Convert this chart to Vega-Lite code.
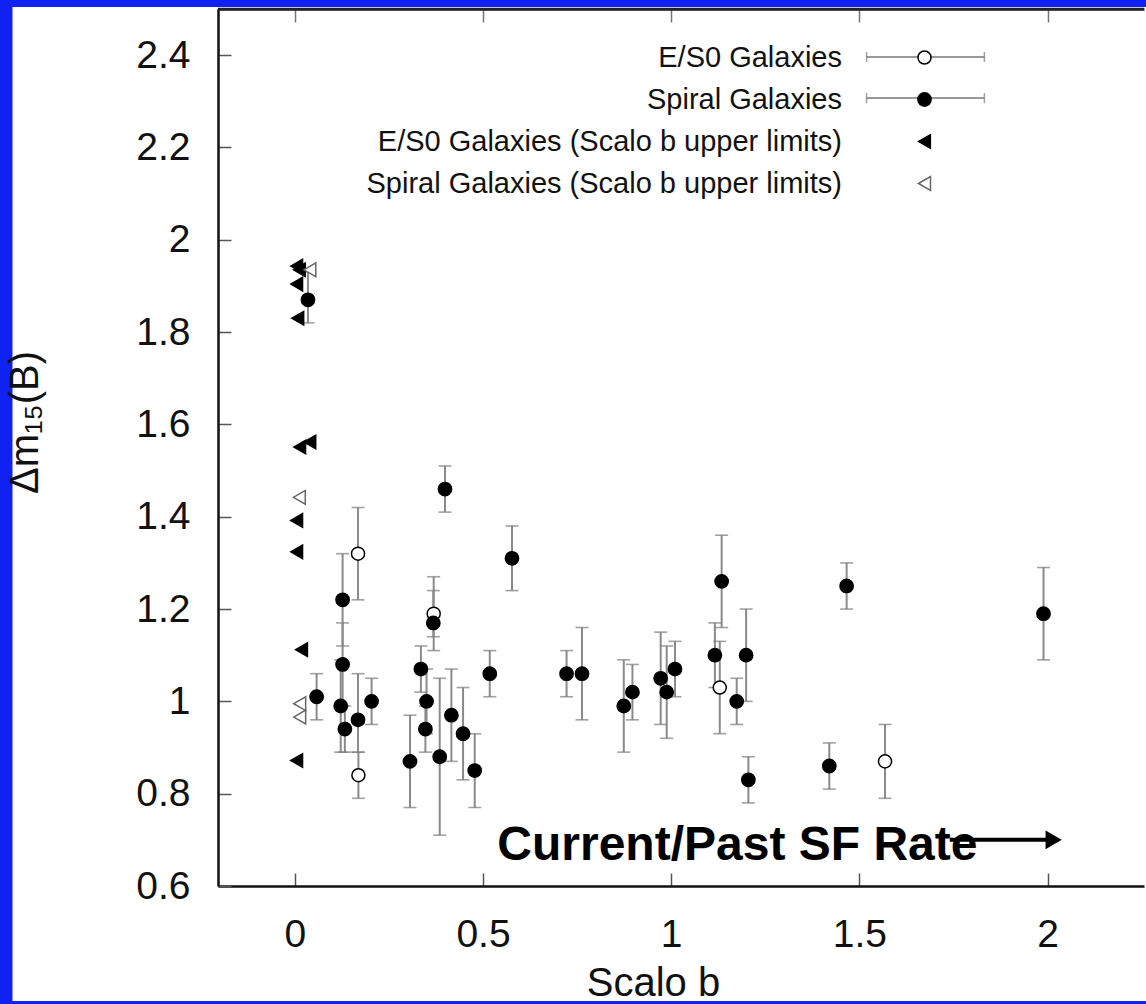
{
  "$schema": "https://vega.github.io/schema/vega-lite/v6.json",
  "width": 926,
  "height": 877,
  "autosize": {"type": "none"},
  "padding": {"left": 218, "top": 9, "right": 2, "bottom": 118},
  "background": "#1022f2",
  "resolve": {"axis": {"x": "independent"}},
  "config": {
    "view": {"stroke": null},
    "axis": {"grid": false, "labelFont": "Liberation Sans", "titleFont": "Liberation Sans", "labelColor": "#111", "titleColor": "#111", "titleFontWeight": "normal", "domainColor": "#111", "domainWidth": 2.5, "tickColor": "#555", "tickWidth": 1.5, "tickSize": -13, "labelFontSize": 39, "titleFontSize": 40, "labelFlush": false, "labelOverlap": false},
    "axisX": {"labelPadding": 42, "titlePadding": 9},
    "axisY": {"labelPadding": 41, "titlePadding": 90},
    "legend": {"labelFont": "Liberation Sans", "labelFontSize": 29, "labelColor": "#111", "labelLimit": 0, "padding": 0, "symbolStrokeWidth": 1.5}
  },
  "data": {"values": [
    {"b": 0.168, "dm": 1.32, "lo": 1.22, "hi": 1.42, "type": "E/S0 Galaxies"},
    {"b": 0.369, "dm": 1.19, "lo": 1.11, "hi": 1.27, "type": "E/S0 Galaxies"},
    {"b": 0.169, "dm": 0.84, "lo": 0.79, "hi": 0.89, "type": "E/S0 Galaxies"},
    {"b": 1.129, "dm": 1.03, "lo": 0.93, "hi": 1.13, "type": "E/S0 Galaxies"},
    {"b": 1.568, "dm": 0.87, "lo": 0.79, "hi": 0.95, "type": "E/S0 Galaxies"},
    {"b": 0.035, "dm": 1.87, "lo": 1.82, "hi": 1.93, "type": "Spiral Galaxies"},
    {"b": 0.399, "dm": 1.46, "lo": 1.41, "hi": 1.51, "type": "Spiral Galaxies"},
    {"b": 0.577, "dm": 1.31, "lo": 1.24, "hi": 1.38, "type": "Spiral Galaxies"},
    {"b": 0.127, "dm": 1.22, "lo": 1.12, "hi": 1.32, "type": "Spiral Galaxies"},
    {"b": 0.368, "dm": 1.17, "lo": 1.14, "hi": 1.24, "type": "Spiral Galaxies"},
    {"b": 0.127, "dm": 1.08, "lo": 0.99, "hi": 1.17, "type": "Spiral Galaxies"},
    {"b": 0.058, "dm": 1.01, "lo": 0.96, "hi": 1.06, "type": "Spiral Galaxies"},
    {"b": 0.122, "dm": 0.99, "lo": 0.89, "hi": 1.09, "type": "Spiral Galaxies"},
    {"b": 0.133, "dm": 0.94, "lo": 0.89, "hi": 0.99, "type": "Spiral Galaxies"},
    {"b": 0.168, "dm": 0.96, "lo": 0.89, "hi": 1.06, "type": "Spiral Galaxies"},
    {"b": 0.204, "dm": 1.0, "lo": 0.95, "hi": 1.05, "type": "Spiral Galaxies"},
    {"b": 0.306, "dm": 0.87, "lo": 0.77, "hi": 0.97, "type": "Spiral Galaxies"},
    {"b": 0.335, "dm": 1.07, "lo": 1.02, "hi": 1.12, "type": "Spiral Galaxies"},
    {"b": 0.35, "dm": 1.0, "lo": 0.93, "hi": 1.07, "type": "Spiral Galaxies"},
    {"b": 0.347, "dm": 0.94, "lo": 0.89, "hi": 0.99, "type": "Spiral Galaxies"},
    {"b": 0.385, "dm": 0.88, "lo": 0.71, "hi": 1.05, "type": "Spiral Galaxies"},
    {"b": 0.416, "dm": 0.97, "lo": 0.87, "hi": 1.07, "type": "Spiral Galaxies"},
    {"b": 0.447, "dm": 0.93, "lo": 0.83, "hi": 1.03, "type": "Spiral Galaxies"},
    {"b": 0.478, "dm": 0.85, "lo": 0.77, "hi": 0.93, "type": "Spiral Galaxies"},
    {"b": 0.518, "dm": 1.06, "lo": 1.01, "hi": 1.11, "type": "Spiral Galaxies"},
    {"b": 0.722, "dm": 1.06, "lo": 1.01, "hi": 1.11, "type": "Spiral Galaxies"},
    {"b": 0.763, "dm": 1.06, "lo": 0.96, "hi": 1.16, "type": "Spiral Galaxies"},
    {"b": 0.874, "dm": 0.99, "lo": 0.89, "hi": 1.09, "type": "Spiral Galaxies"},
    {"b": 0.897, "dm": 1.02, "lo": 0.96, "hi": 1.08, "type": "Spiral Galaxies"},
    {"b": 0.972, "dm": 1.05, "lo": 0.95, "hi": 1.15, "type": "Spiral Galaxies"},
    {"b": 0.988, "dm": 1.02, "lo": 0.92, "hi": 1.12, "type": "Spiral Galaxies"},
    {"b": 1.01, "dm": 1.07, "lo": 1.01, "hi": 1.13, "type": "Spiral Galaxies"},
    {"b": 1.116, "dm": 1.1, "lo": 1.03, "hi": 1.17, "type": "Spiral Galaxies"},
    {"b": 1.134, "dm": 1.26, "lo": 1.16, "hi": 1.36, "type": "Spiral Galaxies"},
    {"b": 1.174, "dm": 1.0, "lo": 0.95, "hi": 1.05, "type": "Spiral Galaxies"},
    {"b": 1.199, "dm": 1.1, "lo": 1.0, "hi": 1.2, "type": "Spiral Galaxies"},
    {"b": 1.205, "dm": 0.83, "lo": 0.78, "hi": 0.88, "type": "Spiral Galaxies"},
    {"b": 1.42, "dm": 0.86, "lo": 0.81, "hi": 0.91, "type": "Spiral Galaxies"},
    {"b": 1.466, "dm": 1.25, "lo": 1.2, "hi": 1.3, "type": "Spiral Galaxies"},
    {"b": 1.989, "dm": 1.19, "lo": 1.09, "hi": 1.29, "type": "Spiral Galaxies"},
    {"b": 0.005, "dm": 1.943, "type": "E/S0 Galaxies (Scalo b upper limits)"},
    {"b": 0.012, "dm": 1.935, "type": "E/S0 Galaxies (Scalo b upper limits)"},
    {"b": 0.005, "dm": 1.904, "type": "E/S0 Galaxies (Scalo b upper limits)"},
    {"b": 0.008, "dm": 1.83, "type": "E/S0 Galaxies (Scalo b upper limits)"},
    {"b": 0.013, "dm": 1.551, "type": "E/S0 Galaxies (Scalo b upper limits)"},
    {"b": 0.04, "dm": 1.562, "type": "E/S0 Galaxies (Scalo b upper limits)"},
    {"b": 0.005, "dm": 1.392, "type": "E/S0 Galaxies (Scalo b upper limits)"},
    {"b": 0.005, "dm": 1.324, "type": "E/S0 Galaxies (Scalo b upper limits)"},
    {"b": 0.018, "dm": 1.112, "type": "E/S0 Galaxies (Scalo b upper limits)"},
    {"b": 0.005, "dm": 0.872, "type": "E/S0 Galaxies (Scalo b upper limits)"},
    {"b": 0.04, "dm": 1.935, "type": "Spiral Galaxies (Scalo b upper limits)"},
    {"b": 0.012, "dm": 1.442, "type": "Spiral Galaxies (Scalo b upper limits)"},
    {"b": 0.013, "dm": 0.995, "type": "Spiral Galaxies (Scalo b upper limits)"},
    {"b": 0.013, "dm": 0.966, "type": "Spiral Galaxies (Scalo b upper limits)"}
  ]},
  "layer": [
    {
      "data": {"values": [{}]},
      "mark": {"type": "rect", "fill": "white", "clip": false},
      "encoding": {
        "x": {"datum": -0.75, "type": "quantitative", "scale": {"domain": [-0.204, 2.256], "nice": false, "zero": false}, "axis": {"orient": "bottom", "zindex": 2, "title": "Scalo b", "titleX": 435, "values": [0, 0.5, 1, 1.5, 2], "format": "~g"}},
        "x2": {"datum": 2.45},
        "y": {"datum": 0.351, "type": "quantitative", "scale": {"domain": [0.6, 2.5], "nice": false, "zero": false}, "axis": {"zindex": 2, "title": "Δm₁₅(B)", "titleY": 413, "values": [0.6, 0.8, 1, 1.2, 1.4, 1.6, 1.8, 2, 2.2, 2.4], "format": "~g"}},
        "y2": {"datum": 2.5045}
      }
    },
    {
      "transform": [{"filter": "isValid(datum.lo)"}],
      "mark": {"type": "rule", "color": "#8a8a8a", "strokeWidth": 2},
      "encoding": {
        "x": {"field": "b", "type": "quantitative", "scale": {"domain": [-0.204, 2.256], "nice": false, "zero": false}, "axis": null},
        "y": {"field": "lo", "type": "quantitative", "scale": {"domain": [0.6, 2.5], "nice": false, "zero": false}},
        "y2": {"field": "hi"}
      }
    },
    {
      "transform": [{"filter": "isValid(datum.lo)"}],
      "mark": {"type": "tick", "orient": "horizontal", "color": "#7a7a7a", "size": 13, "thickness": 1.6},
      "encoding": {
        "x": {"field": "b", "type": "quantitative", "scale": {"domain": [-0.204, 2.256], "nice": false, "zero": false}, "axis": null},
        "y": {"field": "lo", "type": "quantitative", "scale": {"domain": [0.6, 2.5], "nice": false, "zero": false}}
      }
    },
    {
      "transform": [{"filter": "isValid(datum.hi)"}],
      "mark": {"type": "tick", "orient": "horizontal", "color": "#7a7a7a", "size": 13, "thickness": 1.6},
      "encoding": {
        "x": {"field": "b", "type": "quantitative", "scale": {"domain": [-0.204, 2.256], "nice": false, "zero": false}, "axis": null},
        "y": {"field": "hi", "type": "quantitative", "scale": {"domain": [0.6, 2.5], "nice": false, "zero": false}}
      }
    },
    {
      "mark": {"type": "point", "opacity": 1, "strokeWidth": 1.5},
      "encoding": {
        "x": {"field": "b", "type": "quantitative", "scale": {"domain": [-0.204, 2.256], "nice": false, "zero": false}, "axis": null},
        "y": {"field": "dm", "type": "quantitative", "scale": {"domain": [0.6, 2.5], "nice": false, "zero": false}},
        "shape": {"field": "type", "type": "nominal",
          "scale": {"domain": ["E/S0 Galaxies", "Spiral Galaxies", "E/S0 Galaxies (Scalo b upper limits)", "Spiral Galaxies (Scalo b upper limits)"], "range": ["circle", "circle", "triangle-left", "triangle-left"]},
          "legend": {"title": null, "orient": "none", "legendX": 692, "legendY": 34, "labelAlign": "right", "labelOffset": -97, "rowPadding": 12}},
        "fill": {"field": "type", "type": "nominal",
          "scale": {"domain": ["E/S0 Galaxies", "Spiral Galaxies", "E/S0 Galaxies (Scalo b upper limits)", "Spiral Galaxies (Scalo b upper limits)"], "range": ["white", "black", "black", "white"]}},
        "stroke": {"field": "type", "type": "nominal",
          "scale": {"domain": ["E/S0 Galaxies", "Spiral Galaxies", "E/S0 Galaxies (Scalo b upper limits)", "Spiral Galaxies (Scalo b upper limits)"], "range": ["black", "black", "black", "#666666"]}},
        "size": {"field": "type", "type": "nominal",
          "scale": {"domain": ["E/S0 Galaxies", "Spiral Galaxies", "E/S0 Galaxies (Scalo b upper limits)", "Spiral Galaxies (Scalo b upper limits)"], "range": [170, 190, 110, 110]}}
      }
    },
    {
      "data": {"values": [{}]},
      "mark": {"type": "text", "text": "Current/Past SF Rate", "font": "Liberation Sans", "fontWeight": "bold", "fontSize": 48, "align": "left", "baseline": "alphabetic", "color": "black"},
      "encoding": {
        "x": {"datum": 0.538, "type": "quantitative", "scale": {"domain": [-0.204, 2.256], "nice": false, "zero": false}, "axis": null},
        "y": {"datum": 0.656, "type": "quantitative", "scale": {"domain": [0.6, 2.5], "nice": false, "zero": false}}
      }
    },
    {
      "data": {"values": [{}]},
      "mark": {"type": "rule", "color": "black", "strokeWidth": 4},
      "encoding": {
        "x": {"datum": 1.74, "type": "quantitative", "scale": {"domain": [-0.204, 2.256], "nice": false, "zero": false}, "axis": null},
        "x2": {"datum": 2.005},
        "y": {"datum": 0.7, "type": "quantitative", "scale": {"domain": [0.6, 2.5], "nice": false, "zero": false}}
      }
    },
    {
      "data": {"values": [{}]},
      "mark": {"type": "point", "shape": "triangle-right", "filled": true, "color": "black", "size": 350, "opacity": 1},
      "encoding": {
        "x": {"datum": 2.016, "type": "quantitative", "scale": {"domain": [-0.204, 2.256], "nice": false, "zero": false}, "axis": null},
        "y": {"datum": 0.7, "type": "quantitative", "scale": {"domain": [0.6, 2.5], "nice": false, "zero": false}}
      }
    },
    {
      "data": {"values": [{}]},
      "mark": {"type": "rule", "color": "#222", "strokeWidth": 2.5},
      "encoding": {
        "x": {"datum": -0.204, "type": "quantitative", "scale": {"domain": [-0.204, 2.256], "nice": false, "zero": false}, "axis": {"orient": "top", "zindex": 2, "title": null, "labels": false, "values": [0, 0.5, 1, 1.5, 2], "tickColor": "#777", "tickSize": -13, "domainColor": "#222", "domainWidth": 2.5}},
        "x2": {"datum": 2.256},
        "y": {"datum": 2.5, "type": "quantitative", "scale": {"domain": [0.6, 2.5], "nice": false, "zero": false}}
      }
    },
    {
      "data": {"values": [{}]},
      "mark": {"type": "rule", "color": "#777", "strokeWidth": 1.5},
      "encoding": {
        "x": {"datum": 1.519, "type": "quantitative", "scale": {"domain": [-0.204, 2.256], "nice": false, "zero": false}, "axis": null},
        "x2": {"datum": 1.832},
        "y": {"datum": 2.396, "type": "quantitative", "scale": {"domain": [0.6, 2.5], "nice": false, "zero": false}}
      }
    },
    {
      "data": {"values": [{}]},
      "mark": {"type": "rule", "color": "#777", "strokeWidth": 1.5},
      "encoding": {
        "x": {"datum": 1.519, "type": "quantitative", "scale": {"domain": [-0.204, 2.256], "nice": false, "zero": false}, "axis": null},
        "x2": {"datum": 1.832},
        "y": {"datum": 2.307, "type": "quantitative", "scale": {"domain": [0.6, 2.5], "nice": false, "zero": false}}
      }
    },
    {
      "data": {"values": [{}]},
      "mark": {"type": "tick", "orient": "vertical", "color": "#777", "size": 10, "thickness": 1.5},
      "encoding": {
        "x": {"datum": 1.519, "type": "quantitative", "scale": {"domain": [-0.204, 2.256], "nice": false, "zero": false}, "axis": null},
        "y": {"datum": 2.396, "type": "quantitative", "scale": {"domain": [0.6, 2.5], "nice": false, "zero": false}}
      }
    },
    {
      "data": {"values": [{}]},
      "mark": {"type": "tick", "orient": "vertical", "color": "#777", "size": 10, "thickness": 1.5},
      "encoding": {
        "x": {"datum": 1.832, "type": "quantitative", "scale": {"domain": [-0.204, 2.256], "nice": false, "zero": false}, "axis": null},
        "y": {"datum": 2.396, "type": "quantitative", "scale": {"domain": [0.6, 2.5], "nice": false, "zero": false}}
      }
    },
    {
      "data": {"values": [{}]},
      "mark": {"type": "tick", "orient": "vertical", "color": "#777", "size": 10, "thickness": 1.5},
      "encoding": {
        "x": {"datum": 1.519, "type": "quantitative", "scale": {"domain": [-0.204, 2.256], "nice": false, "zero": false}, "axis": null},
        "y": {"datum": 2.307, "type": "quantitative", "scale": {"domain": [0.6, 2.5], "nice": false, "zero": false}}
      }
    },
    {
      "data": {"values": [{}]},
      "mark": {"type": "tick", "orient": "vertical", "color": "#777", "size": 10, "thickness": 1.5},
      "encoding": {
        "x": {"datum": 1.832, "type": "quantitative", "scale": {"domain": [-0.204, 2.256], "nice": false, "zero": false}, "axis": null},
        "y": {"datum": 2.307, "type": "quantitative", "scale": {"domain": [0.6, 2.5], "nice": false, "zero": false}}
      }
    }
  ]
}
